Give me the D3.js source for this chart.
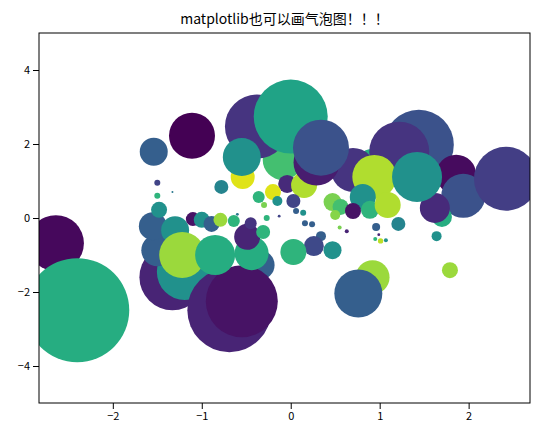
<!DOCTYPE html>
<html>
<head>
<meta charset="UTF-8">
<style>
  body { margin: 0; background: #fff; }
  text { font-family: "Noto Sans CJK SC", sans-serif; }
  .tick text { font-size: 11px; }
</style>
</head>
<body>
<script src="https://d3js.org/d3.v7.min.js"></script>
<script>
// bubbles, in drawing order (back to front)
const xs = [1.44, 0.92, -0.09, 0.70, -0.38, 1.22, -0.35, -1.33, -1.19, -1.50, -0.69, -0.55, 1.86, 1.94, 1.70, 1.62, 2.42,
  0.94, 1.42, 0.81, 0.89, 1.09, 0.47, 0.56, 0.50, 0.70, 0.92, 0.76, 1.79, 1.64, 0.96, 1.21,
  -0.04, 0.15, 0.03, 0.06, 0.14, 0.16, 0.24, 0.34, 0.26, 0.47, 0.03, 0.55, 0.63, 0.95, 1.01, 1.07, 0.99,
  -1.55, -1.30, -1.22, -0.85, -0.44, -0.49, -1.10, -1.00, -0.89, -0.79, -0.64, -0.45, -0.31,
  -1.48, -1.50, -1.50, -1.33, -0.78, -0.54, -0.55, -0.36, -0.20, -0.15, -0.30, -0.27, -0.13,
  0.00, 0.29, 0.34, -1.11, -1.54, -2.64, -2.40, -0.60];
const ys = [1.98, 1.38, 1.57, 1.30, 2.47, 1.79, -1.27, -1.60, -1.46, -0.87, -2.49, -2.25, 1.17, 0.60, 0.03, 0.27, 1.06,
  1.11, 1.11, 0.57, 0.22, 0.35, 0.43, 0.30, 0.08, 0.19, -1.60, -2.04, -1.41, -0.49, -0.24, -0.16,
  0.92, 0.89, 0.46, 0.19, 0.14, -0.14, -0.17, -0.49, -0.76, -0.87, -0.92, -0.26, -0.36, -0.57, -0.62, -0.60, -0.45,
  -0.22, -0.33, -1.00, -1.00, -0.95, -0.51, -0.03, -0.05, -0.16, -0.05, -0.08, -0.14, -0.38,
  0.22, 0.95, 0.60, 0.70, 0.84, 1.11, 1.65, 0.57, 0.70, 0.46, 0.35, 0.00, 0.05,
  2.74, 1.50, 1.90, 2.22, 1.79, -0.68, -2.49, 0.10];
const sizes = [1225, 324, 400, 484, 1024, 900, 225, 1089, 784, 256, 1764, 1296, 400, 484, 100, 225, 1024,
  484, 625, 169, 81, 169, 81, 64, 25, 64, 289, 576, 64, 25, 16, 49,
  81, 169, 49, 9, 9, 9, 9, 25, 100, 81, 169, 4, 4, 4, 7, 4, 2,
  196, 196, 529, 400, 289, 169, 49, 64, 64, 49, 36, 36, 49,
  64, 9, 9, 1, 49, 144, 361, 36, 64, 25, 9, 9, 2,
  1369, 529, 784, 529, 196, 784, 2704, 2];
const colors = [0.25, 0.62, 0.70, 0.15, 0.15, 0.15, 0.30, 0.10, 0.50, 0.30, 0.10, 0.05, 0.03, 0.25, 0.62, 0.12, 0.18,
  0.88, 0.50, 0.50, 0.65, 0.88, 0.80, 0.70, 0.82, 0.05, 0.85, 0.30, 0.85, 0.50, 0.30, 0.45,
  0.12, 0.88, 0.20, 0.30, 0.50, 0.30, 0.30, 0.30, 0.22, 0.50, 0.65, 0.80, 0.10, 0.65, 0.90, 0.50, 0.10,
  0.30, 0.50, 0.85, 0.62, 0.62, 0.10, 0.05, 0.50, 0.30, 0.85, 0.65, 0.15, 0.65,
  0.50, 0.20, 0.65, 0.40, 0.45, 0.95, 0.50, 0.65, 0.95, 0.50, 0.80, 0.65, 0.20,
  0.58, 0.08, 0.25, 0.00, 0.30, 0.02, 0.62, 0.40];
const xTicks = [-2, -1, 0, 1, 2];
const yTicks = [-4, -2, 0, 2, 4];
const title = "matplotlib也可以画气泡图！！！";

const m = { t: 33, r: 9, b: 31, l: 39 };
const W = 539, H = 434;
const w = W - m.l - m.r, h = H - m.t - m.b;

const svg = d3.select('body').append('svg').attr('width', W).attr('height', H);
const x = d3.scaleLinear().domain([-2.83, 2.69]).range([0, w]);
const y = d3.scaleLinear().domain([-5, 5]).range([h, 0]);
const r = d3.scaleSqrt().domain([0, 2704]).range([0, 52]);

svg.append('defs').append('clipPath').attr('id', 'clip')
  .append('rect').attr('width', w).attr('height', h);

const g = svg.append('g').attr('transform', `translate(${m.l},${m.t})`);

g.append('g').attr('clip-path', 'url(#clip)')
  .selectAll('circle').data(d3.range(xs.length)).enter().append('circle')
  .attr('cx', i => x(xs[i]))
  .attr('cy', i => y(ys[i]))
  .attr('r', i => r(sizes[i]))
  .attr('fill', i => d3.interpolateViridis(colors[i]));

const fmt = d => d === 0 ? '0' : d3.format('d')(d).replace('-', '−');
g.append('g').attr('transform', `translate(0,${h})`)
  .call(d3.axisBottom(x).tickValues(xTicks).tickSizeOuter(0).tickFormat(fmt));
g.append('g')
  .call(d3.axisLeft(y).tickValues(yTicks).tickSizeOuter(0).tickFormat(fmt));
g.append('rect').attr('width', w).attr('height', h)
  .attr('fill', 'none').attr('stroke', '#000').attr('stroke-width', 1);
g.selectAll('.domain').remove();
g.selectAll('.tick text').attr('fill', '#000');

svg.append('text').attr('x', m.l + w / 2).attr('y', 24)
  .attr('text-anchor', 'middle').attr('font-size', 14).text(title);
</script>
</body>
</html>
